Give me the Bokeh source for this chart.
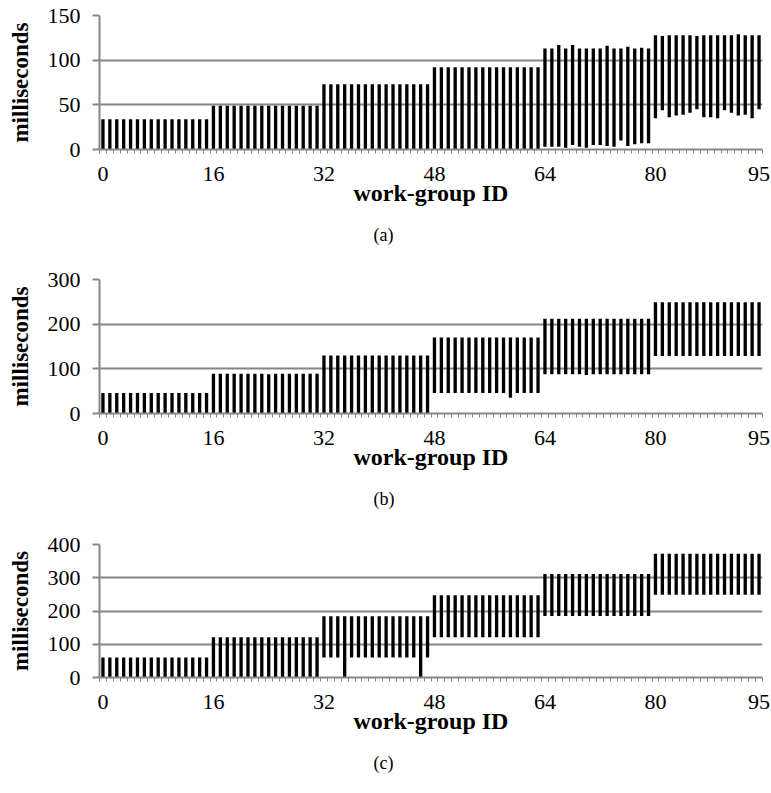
from bokeh.plotting import figure
from bokeh.layouts import column
from bokeh.models import FixedTicker, Title, Range1d
from bokeh.embed import file_html
from bokeh.resources import INLINE

ids = list(range(96))
x_tick_values = [0, 16, 32, 48, 64, 80, 95]

a_start = [0, 0, 0, 0, 0, 0, 0, 0, 0, 0, 0, 0, 0, 0, 0, 0,
           0, 0, 0, 0, 0, 0, 0, 0, 0, 0, 0, 0, 0, 0, 0, 0,
           0, 0, 0, 0, 0, 0, 0, 0, 0, 0, 0, 0, 0, 0, 0, 0,
           0, 0, 0, 0, 0, 0, 0, 0, 0, 0, 0, 0, 0, 0, 0, 0,
           3, 3, 3, 2, 5, 3, 2, 5, 5, 4, 3, 10, 4, 6, 7, 7,
           35, 44, 36, 38, 39, 41, 45, 36, 36, 35, 44, 41, 38, 39, 35, 45]
a_end = [34, 34, 34, 34, 34, 34, 34, 34, 34, 34, 34, 34, 34, 34, 34, 34,
         49, 49, 49, 49, 49, 49, 49, 49, 49, 49, 49, 49, 49, 49, 49, 49,
         73, 73, 73, 73, 73, 73, 73, 73, 73, 73, 73, 73, 73, 73, 73, 73,
         92, 92, 92, 92, 92, 92, 92, 92, 92, 92, 92, 92, 92, 92, 92, 92,
         113, 113, 117, 113, 117, 113, 113, 113, 113, 116, 113, 113, 115, 113, 114, 113,
         128, 127, 128, 128, 128, 128, 127, 128, 128, 128, 128, 128, 129, 128, 128, 128]

b_start = [0, 0, 0, 0, 0, 0, 0, 0, 0, 0, 0, 0, 0, 0, 0, 0,
           0, 0, 0, 0, 0, 0, 0, 0, 0, 0, 0, 0, 0, 0, 0, 0,
           0, 0, 0, 0, 0, 0, 0, 0, 0, 0, 0, 0, 0, 0, 0, 0,
           46, 46, 46, 46, 46, 46, 46, 46, 46, 46, 46, 35, 46, 46, 46, 46,
           88, 88, 88, 88, 88, 88, 86, 88, 88, 88, 88, 88, 88, 88, 88, 88,
           129, 129, 129, 129, 129, 129, 129, 129, 129, 129, 129, 129, 129, 129, 129, 129]
b_end = [46, 46, 46, 46, 46, 46, 46, 46, 46, 46, 46, 46, 46, 46, 46, 46,
         89, 89, 89, 89, 89, 89, 89, 89, 88, 89, 89, 89, 89, 89, 89, 89,
         130, 130, 130, 130, 130, 130, 130, 130, 130, 130, 130, 130, 130, 130, 130, 130,
         170, 170, 170, 170, 170, 170, 170, 170, 170, 170, 170, 170, 170, 170, 170, 170,
         212, 212, 212, 212, 212, 212, 212, 212, 212, 212, 212, 212, 212, 212, 212, 212,
         249, 249, 249, 249, 249, 249, 249, 249, 249, 249, 249, 249, 249, 249, 249, 249]

c_start = [0, 0, 0, 0, 0, 0, 0, 0, 0, 0, 0, 0, 0, 0, 0, 0,
           0, 0, 0, 0, 0, 0, 0, 0, 0, 0, 0, 0, 0, 0, 0, 0,
           60, 60, 60, 0, 60, 60, 60, 60, 60, 60, 60, 60, 60, 60, 0, 60,
           121, 121, 121, 121, 121, 121, 121, 121, 121, 121, 121, 121, 121, 121, 121, 121,
           185, 185, 185, 185, 185, 185, 185, 185, 185, 185, 185, 185, 185, 185, 185, 185,
           249, 249, 249, 249, 249, 249, 249, 249, 249, 249, 249, 249, 249, 249, 249, 249]
c_end = [60, 60, 60, 60, 60, 60, 60, 60, 60, 60, 60, 60, 60, 60, 60, 60,
         121, 121, 121, 121, 121, 121, 121, 121, 121, 121, 121, 121, 121, 121, 121, 121,
         184, 184, 184, 184, 184, 184, 184, 184, 184, 184, 184, 184, 184, 184, 184, 184,
         247, 247, 247, 247, 247, 247, 247, 247, 247, 247, 247, 247, 247, 247, 247, 247,
         311, 311, 311, 311, 311, 311, 311, 311, 311, 311, 311, 311, 311, 311, 311, 311,
         372, 372, 372, 372, 372, 372, 372, 372, 372, 372, 372, 372, 372, 372, 372, 372]

panels = [
    (a_start, a_end, 150, [0, 50, 100, 150], "(a)", 264),
    (b_start, b_end, 300, [0, 100, 200, 300], "(b)", 265),
    (c_start, c_end, 400, [0, 100, 200, 300, 400], "(c)", 258),
]

GRAY = "#868686"
SERIF = "Liberation Serif"
TOP = 15
FRAME_H = 134


def make_panel(starts, ends, ymax, yticks, caption, height):
    p = figure(output_backend="svg", toolbar_location=None,
               x_range=Range1d(-0.5, 95.5), y_range=Range1d(0, ymax),
               width=770, height=height,
               min_border_left=99, min_border_right=8,
               min_border_top=TOP, min_border_bottom=height - TOP - FRAME_H)
    p.outline_line_color = None
    p.background_fill_color = "white"
    p.border_fill_color = "white"

    p.vbar(x=ids, bottom=starts, top=ends, width=0.48,
           fill_color="black", line_color=None)

    # x axis
    xa = p.xaxis[0]
    xa.ticker = FixedTicker(ticks=x_tick_values,
                            minor_ticks=[i - 0.5 for i in range(97)])
    xa.axis_line_color = GRAY
    xa.axis_line_width = 2
    xa.major_tick_out = 0
    xa.major_tick_in = 0
    xa.minor_tick_out = 4
    xa.minor_tick_in = 0
    xa.minor_tick_line_color = GRAY
    xa.minor_tick_line_width = 1
    xa.major_label_text_font = SERIF
    xa.major_label_text_font_size = "22px"
    xa.major_label_text_color = "black"
    xa.major_label_standoff = 13
    xa.axis_label = "work-group ID"
    xa.axis_label_text_font = SERIF
    xa.axis_label_text_font_size = "24px"
    xa.axis_label_text_font_style = "bold"
    xa.axis_label_text_color = "black"
    xa.axis_label_standoff = -4

    # y axis
    ya = p.yaxis[0]
    ya.ticker = FixedTicker(ticks=yticks)
    ya.axis_line_color = GRAY
    ya.axis_line_width = 2
    ya.major_tick_out = 7
    ya.major_tick_in = 0
    ya.major_tick_line_color = GRAY
    ya.major_tick_line_width = 2
    ya.minor_tick_out = 0
    ya.minor_tick_in = 0
    ya.major_label_text_font = SERIF
    ya.major_label_text_font_size = "22px"
    ya.major_label_text_color = "black"
    ya.major_label_standoff = 12
    ya.axis_label = "milliseconds"
    ya.axis_label_text_font = SERIF
    ya.axis_label_text_font_size = "23px"
    ya.axis_label_text_font_style = "bold"
    ya.axis_label_text_color = "black"
    ya.axis_label_standoff = 12

    p.xgrid.grid_line_color = None
    p.ygrid.ticker = FixedTicker(ticks=yticks)
    p.ygrid.grid_line_color = GRAY
    p.ygrid.grid_line_width = 2

    t = Title(text=caption, align="left", offset=274, standoff=29,
              text_font=SERIF, text_font_size="18px",
              text_font_style="normal", text_color="black")
    p.add_layout(t, "below")
    return p


figs = [make_panel(*args) for args in panels]
layout = column(*figs, spacing=0)

open("out.html", "w").write(file_html(layout, INLINE))
